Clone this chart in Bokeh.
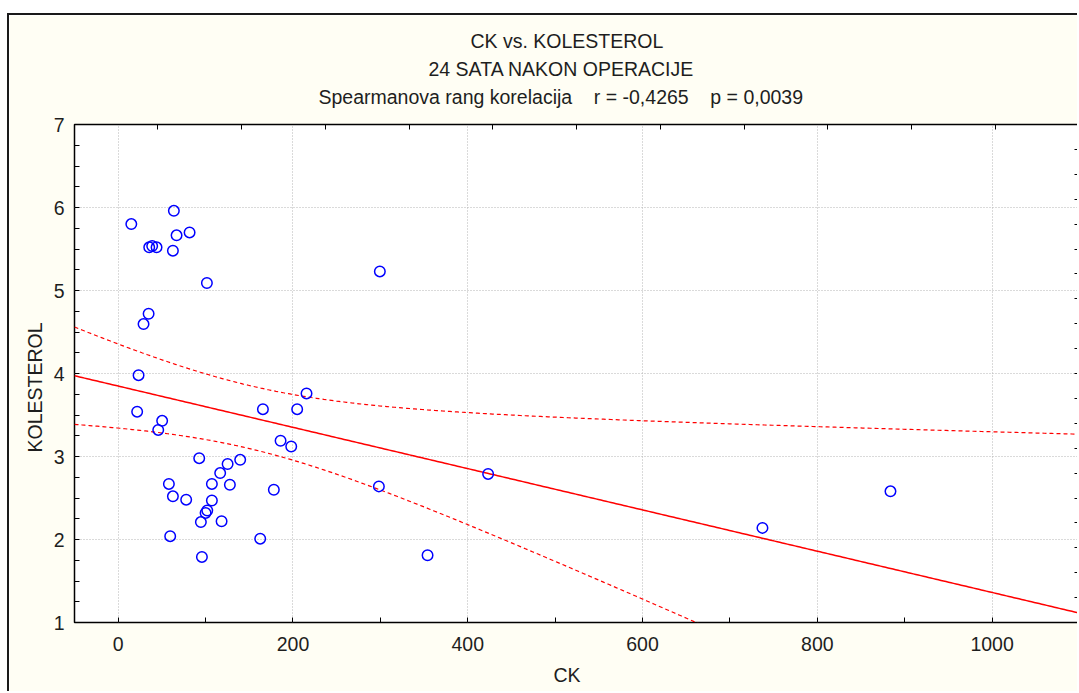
import numpy as np
from bokeh.plotting import figure
from bokeh.models import FixedTicker, LinearAxis, Title, Range1d
from bokeh.embed import file_html
from bokeh.resources import INLINE

# ---- data ----
ck = [15, 63.7, 81.7, 66.8, 35.5, 38.9, 43.9, 62.6, 101.5, 34.8, 29, 23.3,
      21.7, 50.3, 45.8, 92.7, 58, 62.6, 77.8, 59.5, 95.8, 94.6, 100, 101.9,
      107.2, 107.2, 118.3, 116.7, 125.2, 127.8, 139.6, 165.6, 162.5, 178.1,
      185.8, 198, 204.8, 215.5, 299.4, 298.3, 354, 423.3, 737.2, 883.7]
kolesterol = [5.80, 5.96, 5.70, 5.665, 5.52, 5.535, 5.52, 5.48, 5.09, 4.72, 4.595, 3.98,
              3.54, 3.43, 3.32, 2.98, 2.67, 2.52, 2.48, 2.04, 1.79, 2.21, 2.32, 2.35,
              2.47, 2.67, 2.22, 2.80, 2.91, 2.66, 2.96, 3.57, 2.01, 2.60,
              3.19, 3.12, 3.57, 3.76, 5.23, 2.64, 1.81, 2.79, 2.14, 2.58]

NB = "\u00a0\u00a0\u00a0\u00a0"
title_lines = ["CK vs. KOLESTEROL",
               "24 SATA NAKON OPERACIJE",
               "Spearmanova rang korelacija" + NB + "r = -0,4265" + NB + "p = 0,0039"]
x_label = "CK"
y_label = "KOLESTEROL"

x_major = [0, 200, 400, 600, 800, 1000]
x_minor = [100, 300, 500, 700, 900]
y_major = [1, 2, 3, 4, 5, 6, 7]
y_minor = [1.25, 1.5, 1.75, 2.25, 2.5, 2.75, 3.25, 3.5, 3.75, 4.25, 4.5, 4.75,
           5.25, 5.5, 5.75, 6.25, 6.5, 6.75]
right_ticks = [1.3, 1.6, 1.9, 2.2, 2.5, 2.8, 3.1, 3.4, 3.7, 4.0, 4.3, 4.6, 4.9,
               5.2, 5.5, 5.8, 6.1, 6.4, 6.7]
top_ticks = [45.4, 141.3, 237.1, 333.0, 428.8, 524.7, 620.5, 716.4, 812.2, 908.1, 1003.9]

x_range = (-50, 1100)
y_range = (1, 7)

# ---- linear fit with 95% confidence band ----
x = np.array(ck, dtype=float)
y = np.array(kolesterol, dtype=float)
n = len(x)
b, a = np.polyfit(x, y, 1)
resid = y - (a + b * x)
s = np.sqrt(np.sum(resid ** 2) / (n - 2))
xm = x.mean()
sxx = np.sum((x - xm) ** 2)
t95 = 2.0181  # t(0.975, df=42)
xs = np.linspace(x_range[0], x_range[1], 400)
yfit = a + b * xs
half = t95 * s * np.sqrt(1.0 / n + (xs - xm) ** 2 / sxx)

FONT = "Liberation Sans"
TXT = "#1e1e1e"
FS = "19.5px"
BG = "#FFFEF4"

p = figure(width=1070, height=678, output_backend="svg", toolbar_location=None,
           title=None, x_range=Range1d(*x_range), y_range=Range1d(*y_range),
           background_fill_color="white", border_fill_color=BG,
           min_border_left=65, min_border_right=0, min_border_top=109,
           min_border_bottom=70)
p.margin = (13, 0, 0, 7)
p.styles = {"border-top": "2px solid #1a1a1a", "border-left": "2px solid #1a1a1a"}
p.outline_line_color = "#000000"
p.outline_line_width = 1.5

for ax in (p.xaxis[0], p.yaxis[0]):
    ax.axis_line_color = None
    ax.major_tick_in = 5
    ax.major_tick_out = 0
    ax.minor_tick_in = 5
    ax.minor_tick_out = 0
    ax.major_tick_line_color = "#000000"
    ax.minor_tick_line_color = "#000000"
    ax.major_label_text_font = FONT
    ax.major_label_text_font_size = FS
    ax.major_label_text_color = TXT

p.xaxis[0].ticker = FixedTicker(ticks=x_major, minor_ticks=x_minor)
p.yaxis[0].ticker = FixedTicker(ticks=y_major, minor_ticks=y_minor)
p.xaxis[0].major_label_standoff = 14
p.yaxis[0].major_label_standoff = 10

# tick-only axes on top and right (no labels: ticks given as minor ticks)
top_axis = LinearAxis(ticker=FixedTicker(ticks=[], minor_ticks=top_ticks),
                      axis_line_color=None, major_tick_line_color=None,
                      minor_tick_in=5, minor_tick_out=0,
                      minor_tick_line_color="#000000")
right_axis = LinearAxis(ticker=FixedTicker(ticks=[], minor_ticks=right_ticks),
                        axis_line_color=None, major_tick_line_color=None,
                        minor_tick_in=5, minor_tick_out=0,
                        minor_tick_line_color="#000000")
p.add_layout(top_axis, "above")
p.add_layout(right_axis, "right")

p.xgrid.ticker = FixedTicker(ticks=x_major)
p.ygrid.ticker = FixedTicker(ticks=y_major)
for g in (p.xgrid[0], p.ygrid[0]):
    g.grid_line_color = "#b4b4b4"
    g.grid_line_dash = "1 2"
    g.grid_line_width = 1

# titles: added closest-to-frame first (line 3, then 2, then 1)
title_offsets = [396, 354, 244]
title_standoffs = [26, -26, 34]
title_valign = ["top", "bottom", "bottom"]
for txt, off, so, va in reversed(list(zip(title_lines, title_offsets,
                                          title_standoffs, title_valign))):
    p.add_layout(Title(text=txt, align="left", offset=off, text_font=FONT,
                       text_font_size=FS, text_font_style="normal",
                       vertical_align=va, text_color=TXT, standoff=so), "above")

p.add_layout(Title(text=x_label, align="left", offset=479, text_font=FONT,
                   text_font_size=FS, text_font_style="normal",
                   text_color=TXT, standoff=16), "below")
p.add_layout(Title(text=y_label, align="left", offset=170, text_font=FONT,
                   text_font_size=FS, text_font_style="normal",
                   text_color=TXT, standoff=10), "left")

p.line(xs, yfit, line_color="#FF0000", line_width=1.5)
p.line(xs, yfit + half, line_color="#FF0000", line_width=1.2, line_dash="4 3")
p.line(xs, yfit - half, line_color="#FF0000", line_width=1.2, line_dash="4 3")

p.scatter(ck, kolesterol, marker="circle", size=10.5, fill_color=None,
          line_color="#0000FF", line_width=1.5)

open("out.html", "w").write(file_html(p, INLINE))
